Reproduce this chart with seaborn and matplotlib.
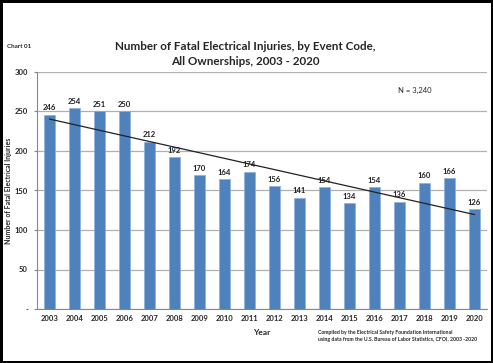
import matplotlib
matplotlib.use("Agg")
import matplotlib.pyplot as plt
import seaborn as sns
import pandas as pd
import numpy as np

years = [str(y) for y in range(2003, 2021)]
fatalities = [246, 254, 251, 250, 212, 192, 170, 164, 174, 156,
              141, 154, 134, 154, 136, 160, 166, 126]

df = pd.DataFrame({'Year': years, 'Fatalities': fatalities})

sns.set_style('white')
plt.rcParams['font.family'] = ['Lato', 'DejaVu Sans']

fig = plt.figure(figsize=(4.93, 3.63), dpi=100)
fig.patch.set_edgecolor('black')
fig.patch.set_linewidth(2.5)
ax = fig.add_axes([37 / 493, 1 - 309 / 363, 450 / 493, 237 / 363])

sns.barplot(data=df, x='Year', y='Fatalities', color='#4F81BD', width=0.42,
            saturation=1, edgecolor='#8DB0DC', linewidth=0.5, ax=ax, zorder=2)

# linear trend line
xi = np.arange(len(fatalities))
slope, icpt = np.polyfit(xi, fatalities, 1)
ax.plot(xi, slope * xi + icpt, color='#222222', lw=0.9, zorder=3)

for i, v in enumerate(fatalities):
    ax.text(i, v + 4, str(v), ha='center', va='bottom', fontsize=5.5,
            fontweight='bold', color='#222222', zorder=4)

ax.set_ylim(0, 300)
ax.set_xlim(-0.5, len(years) - 0.5)
ax.set_yticks(range(0, 301, 50))
ax.set_yticklabels(['-'] + [str(t) for t in range(50, 301, 50)])
ax.yaxis.grid(True, color='#B0B0B0', lw=0.9, zorder=0)
ax.tick_params(axis='both', labelsize=5.5, length=0, pad=4)
for lbl in ax.get_xticklabels() + ax.get_yticklabels():
    lbl.set_fontweight('bold')
# minor ticks between categories
ax.set_xticks(np.arange(-0.5, len(years), 1), minor=True)
ax.tick_params(axis='x', which='minor', length=2.5, color='#888888', direction='out')
ax.tick_params(axis='y', length=2.5, color='#888888', direction='out', left=True)

for s in ['top', 'right']:
    ax.spines[s].set_visible(False)
ax.spines['left'].set_color('#888888')
ax.spines['bottom'].set_color('#888888')
ax.spines['left'].set_linewidth(0.8)
ax.spines['bottom'].set_linewidth(0.8)

ax.set_xlabel('Year', fontsize=6, fontweight='bold')
ax.xaxis.set_label_coords(0.5, -0.085)
ax.set_ylabel('Number of Fatal Electrical Injuries', fontsize=5, fontweight='bold')
ax.yaxis.set_label_coords(-0.055, 0.5)

fig.text(245 / 493, 1 - 54 / 363, 'Number of Fatal Electrical Injuries, by Event Code,\nAll Ownerships, 2003 - 2020',
         ha='center', va='center', fontsize=8.4, fontweight='bold', linespacing=1.45)
fig.text(7 / 493, 1 - 47 / 363, 'Chart 01', fontsize=4.5, fontweight='bold', va='center')
fig.text(415 / 493, 1 - 90 / 363, 'N = 3,240', fontsize=5.5, va='center', ha='center')
fig.text(318 / 493, 1 - 336 / 363,
         'Compiled by the Electrical Safety Foundation International\nusing data from the U.S. Bureau of Labor Statistics, CFOI, 2003 -2020',
         fontsize=3.7, fontweight='bold', va='center', ha='left', linespacing=1.55)

fig.savefig('out.png', dpi=100, edgecolor=fig.get_edgecolor())
